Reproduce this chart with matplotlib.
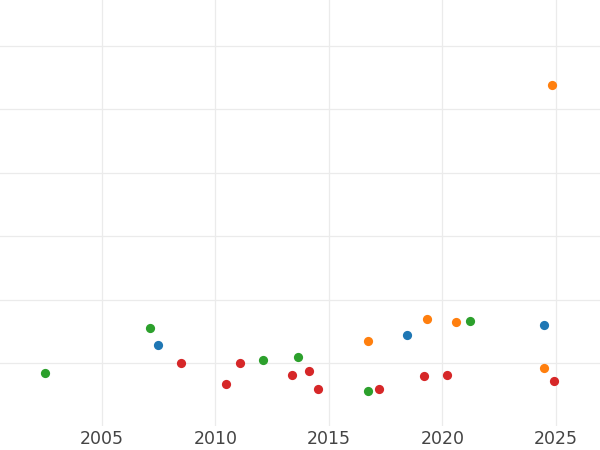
import matplotlib
matplotlib.use("Agg")
import matplotlib.pyplot as plt

# values (x = year, y = value in grid steps)
blue_x = [2007.48, 2018.45, 2024.47]
blue_y = [0.28, 0.45, 0.61]
orange_x = [2016.74, 2019.31, 2020.61, 2024.47, 2024.81]
orange_y = [0.35, 0.70, 0.65, -0.08, 4.38]
green_x = [2002.49, 2007.10, 2012.10, 2013.64, 2016.74, 2021.23]
green_y = [-0.16, 0.56, 0.05, 0.10, -0.44, 0.66]
red_x = [2008.47, 2010.48, 2011.08, 2013.39, 2014.11, 2014.52, 2017.21,
         2019.20, 2020.21, 2024.93]
red_y = [0.01, -0.32, 0.0, -0.19, -0.12, -0.41, -0.40, -0.20, -0.19, -0.28]

x_ticks = [2005, 2010, 2015, 2020, 2025]
y_grid = [0, 1, 2, 3, 4, 5]

fig = plt.figure(figsize=(6, 4.5), dpi=100)
ax = fig.add_axes([0, 0.053, 1, 0.947])

for xs, ys, c in [(blue_x, blue_y, '#1f77b4'), (orange_x, orange_y, '#ff7f0e'),
                  (green_x, green_y, '#2ca02c'), (red_x, red_y, '#d62728')]:
    ax.scatter(xs, ys, s=44, color=c, linewidths=0, zorder=3)

ax.set_xlim(2000.51, 2026.94)
ax.set_ylim(-0.99, 5.72)
ax.set_xticks(x_ticks)
ax.set_yticks(y_grid)
ax.set_yticklabels([])
ax.grid(True, color='#ebebeb', linewidth=0.9, zorder=0)
ax.set_axisbelow(True)
for s in ax.spines.values():
    s.set_visible(False)
ax.tick_params(axis='both', length=0)
ax.tick_params(axis='x', labelsize=12.5, labelcolor='#444444', pad=3)

fig.savefig('out.png', dpi=100)
